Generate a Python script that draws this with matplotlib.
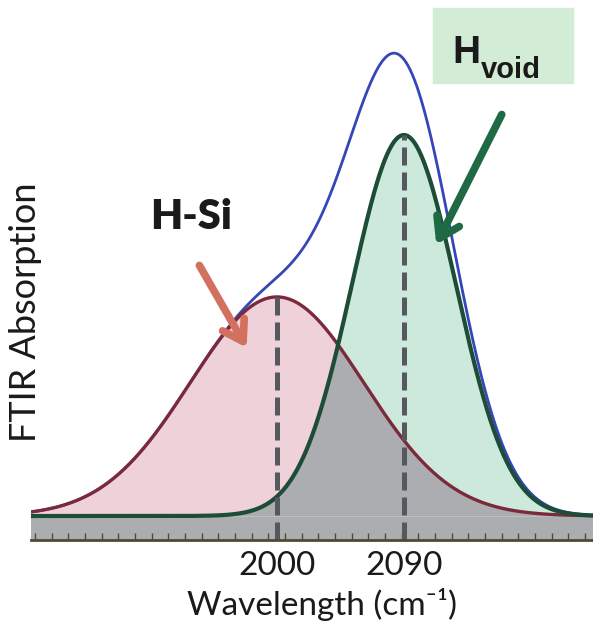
import numpy as np
import matplotlib.pyplot as plt
from matplotlib.patches import Rectangle

plt.rcParams['font.family'] = ['Lato', 'DejaVu Sans']

# peak fit parameters (wavenumber, relative height, width)
peak_names = ['H-Si', 'H_void']
peak_centers = [2000, 2090]
peak_heights = [0.575, 1.0]
peak_sigmas = [61.7, 36.9]
tick_values = [2000, 2090]

x = np.linspace(1825.7, 2224.0, 800)
red = peak_heights[0] * np.exp(-(x - peak_centers[0]) ** 2 / (2 * peak_sigmas[0] ** 2))
green = peak_heights[1] * np.exp(-(x - peak_centers[1]) ** 2 / (2 * peak_sigmas[1] ** 2))
total = red + green

W, H = 593, 625
fig = plt.figure(figsize=(W / 100, H / 100), dpi=100)
ax = fig.add_axes([31 / W, 85 / H, 562 / W, 540 / H])
ymin, ymax = -24 / 381, 516 / 381
ax.set_xlim(x[0], x[-1])
ax.set_ylim(ymin, ymax)

gray = '#acadb0'
ax.axhspan(ymin, 0, color=gray, zorder=1)
ax.fill_between(x, 0, red, color='#efd2d9', lw=0, zorder=1)
ax.fill_between(x, 0, green, color='#cde9dc', lw=0, zorder=1)
ax.fill_between(x, 0, np.minimum(red, green), color=gray, lw=0, zorder=1)

# sum curve sits under the two components
ax.plot(x, total, color='#3546b8', lw=2.0, zorder=2)
ax.plot(x, red, color='#7b2a3c', lw=2.4, zorder=3)
ax.plot(x, green, color='#1d4d36', lw=3.0, zorder=3)

for c, h in zip(peak_centers, peak_heights):
    ax.vlines(c, ymin, h, color='#55585e', lw=3.6, linestyles=(0, (3.6, 1.4)), zorder=4)

# axis styling
for s in ['top', 'right', 'left']:
    ax.spines[s].set_visible(False)
ax.spines['bottom'].set_color('#4d4c2e')
ax.spines['bottom'].set_linewidth(2)
ax.spines['bottom'].set_zorder(5)
ax.set_yticks([])
ax.set_xticks(tick_values)
ax.set_xticklabels([str(t) for t in tick_values])
ax.set_xticks(np.arange(1828.5, 2225, 11.81), minor=True)
ax.tick_params(axis='x', which='major', length=0, pad=8, labelsize=24, colors='#1a1a1a')
ax.tick_params(axis='x', which='minor', direction='in', length=5, width=1, color='#4d4c2e')

ax.set_xlabel('Wavelength (cm\u207b\u00b9)', fontsize=24, color='#1a1a1a')
ax.xaxis.set_label_coords((322 - 31) / 562, -48 / 540)
ax.set_ylabel('FTIR Absorption', fontsize=26, color='#1a1a1a')
ax.yaxis.set_label_coords((42 - 31) / 562, (540 - 312) / 540)

# peak labels
fig.text(191 / W, 1 - 217 / H, 'H-Si', fontsize=30, fontweight='heavy',
         color='#1a1a1a', ha='center', va='center')
fig.patches.append(Rectangle((433 / W, 1 - 83 / H), 140 / W, 75 / H,
                             transform=fig.transFigure, color='#d3ecd6', zorder=0))
fig.text(452 / W, 1 - 63 / H, 'H', fontsize=28, fontweight='bold',
         family='Liberation Sans', color='#1a1a1a', ha='left', va='baseline')
fig.text(481 / W, 1 - 78 / H, 'void', fontsize=21, fontweight='bold',
         family='Liberation Sans', color='#1a1a1a', ha='left', va='baseline')

# arrows
ax.annotate('', xy=(248, H - 350), xytext=(198, H - 263),
            xycoords='figure pixels', textcoords='figure pixels',
            arrowprops=dict(arrowstyle='->,head_length=0.7,head_width=0.45',
                            color='#d27160', lw=5.5, mutation_scale=20))
ax.annotate('', xy=(435, H - 247), xytext=(503, H - 112),
            xycoords='figure pixels', textcoords='figure pixels',
            arrowprops=dict(arrowstyle='->,head_length=0.7,head_width=0.45',
                            color='#1f6a45', lw=5.5, mutation_scale=20))

fig.savefig('out.png', dpi=100)
